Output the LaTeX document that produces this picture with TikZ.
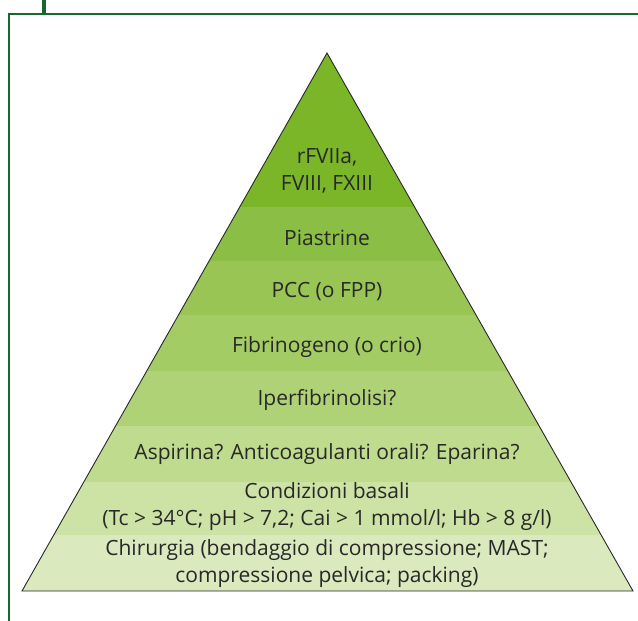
\documentclass[tikz,border=0pt]{standalone}
\usepackage{fontspec}
\setmainfont{Open Sans}
\usetikzlibrary{positioning}
\definecolor{frame}{RGB}{22,104,48}
\definecolor{ink}{RGB}{40,40,40}
\definecolor{bandA}{RGB}{122,182,40}
\definecolor{bandB}{RGB}{139,190,68}
\definecolor{bandC}{RGB}{152,197,84}
\definecolor{bandD}{RGB}{164,204,100}
\definecolor{bandE}{RGB}{176,210,118}
\definecolor{bandF}{RGB}{191,219,141}
\definecolor{bandG}{RGB}{205,226,165}
\definecolor{bandH}{RGB}{218,233,190}

\begin{document}
\begin{tikzpicture}[
    x=1pt, y=-1pt,
    label/.style={text=ink, align=center, font=\fontsize{21}{27}\selectfont, inner sep=0pt},
    edge/.style={draw=ink, line width=0.9pt, line join=miter},
    box/.style={draw=frame, line width=2pt},
]
\useasboundingbox (0,0) rectangle (638,621);

% frame
\draw[box] (9,621) -- (9,14) -- (638,14);
\draw[frame, line width=3.5pt] (44,0) -- (44,14);

% pyramid bands
\coordinate (apex) at (327,53);
\coordinate (bl) at (22,591);
\coordinate (br) at (633,591);
\begin{scope}
  \clip (apex) -- (br) -- (bl) -- cycle;
  \fill[bandA] (0,40) rectangle (638,207);
  \fill[bandB] (0,207) rectangle (638,261);
  \fill[bandC] (0,261) rectangle (638,315);
  \fill[bandD] (0,315) rectangle (638,371);
  \fill[bandE] (0,371) rectangle (638,426);
  \fill[bandF] (0,426) rectangle (638,482);
  \fill[bandG] (0,482) rectangle (638,535);
  \fill[bandH] (0,535) rectangle (638,600);
\end{scope}
\draw[edge] (apex) -- (br) -- (bl) -- cycle;

\node[label] (fattori) at (327,171) {rFVIIa,\\FVIII, FXIII};
\node[label] (piastrine) at (327,238) {Piastrine};
\node[label] (pcc) at (327,292) {PCC (o FPP)};
\node[label] (fibrinogeno) at (327,347) {Fibrinogeno (o crio)};
\node[label] (iperfib) at (327,400) {Iperfibrinolisi?};
\node[label] (farmaci) at (327,454) {Aspirina? Anticoagulanti orali? Eparina?};
\node[label] (basali) at (327,507) {Condizioni basali\\(Tc > 34°C; pH > 7,2; Cai > 1 mmol/l; Hb > 8 g/l)};
\node[label] (chirurgia) at (327,564) {Chirurgia (bendaggio di compressione; MAST;\\compressione pelvica; packing)};

\end{tikzpicture}
\end{document}
